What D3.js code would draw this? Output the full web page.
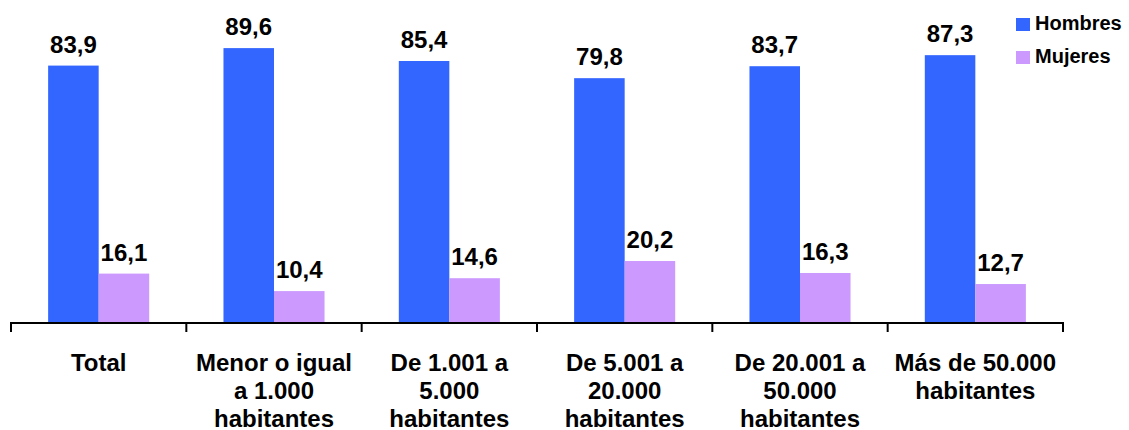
<!DOCTYPE html>
<html lang="es">
<head>
  <meta charset="UTF-8">
  <title>Hombres y Mujeres por tamaño de municipio</title>
  <script src="https://d3js.org/d3.v7.min.js"></script>
  <style>
    body {
      margin: 0;
      background: #fff;
    }
    svg {
      display: block;
      font-family: "Liberation Sans", Arial, sans-serif;
      font-weight: bold;
    }
  </style>
</head>
<body>
  <svg width="1129" height="430"></svg>

  <script>
    // categorias (etiquetas en varias lineas)
    const categorias = [
      ["Total"],
      ["Menor o igual", "a 1.000", "habitantes"],
      ["De 1.001 a", "5.000", "habitantes"],
      ["De 5.001 a", "20.000", "habitantes"],
      ["De 20.001 a", "50.000", "habitantes"],
      ["Más de 50.000", "habitantes"]
    ];
    const series = ["Hombres", "Mujeres"];
    const hombres = [83.9, 89.6, 85.4, 79.8, 83.7, 87.3];
    const mujeres = [16.1, 10.4, 14.6, 20.2, 16.3, 12.7];
    const colores = { Hombres: "#3366FF", Mujeres: "#CC99FF" };

    const datos = categorias.map((c, i) => ({
      id: i,
      label: c,
      valores: [
        { serie: "Hombres", valor: hombres[i] },
        { serie: "Mujeres", valor: mujeres[i] }
      ]
    }));

    const svg = d3.select("svg");
    const base = 323;

    const x0 = d3.scaleBand()
      .domain(datos.map(d => d.id))
      .range([11, 1063])
      .padding(0);

    const x1 = d3.scaleBand()
      .domain(series)
      .range([0, x0.bandwidth()])
      .paddingInner(0)
      .paddingOuter(0.735);

    const y = d3.scaleLinear()
      .domain([0, 100])
      .range([base, base - 306.8]);

    const grupos = svg.append("g")
      .selectAll("g")
      .data(datos)
      .join("g")
      .attr("transform", d => `translate(${x0(d.id)},0)`);

    grupos.selectAll("rect")
      .data(d => d.valores)
      .join("rect")
      .attr("x", d => x1(d.serie))
      .attr("width", x1.bandwidth())
      .attr("y", d => y(d.valor))
      .attr("height", d => base - y(d.valor))
      .attr("fill", d => colores[d.serie]);

    grupos.selectAll("text.valor")
      .data(d => d.valores)
      .join("text")
      .attr("class", "valor")
      .attr("x", d => x1(d.serie) + x1.bandwidth() / 2)
      .attr("y", d => y(d.valor) - 13)
      .attr("text-anchor", "middle")
      .style("font-size", "24px")
      .text(d => d3.format(".1f")(d.valor).replace(".", ","));

    // eje x con marcas en los limites de cada categoria
    const eje = svg.append("g");
    eje.append("line")
      .attr("x1", x0.range()[0])
      .attr("x2", x0.range()[1])
      .attr("y1", base)
      .attr("y2", base)
      .attr("stroke", "#000")
      .attr("stroke-width", 2);

    const limites = datos.map(d => x0(d.id)).concat([x0.range()[1]]);
    eje.selectAll("line.tick")
      .data(limites)
      .join("line")
      .attr("class", "tick")
      .attr("x1", d => d)
      .attr("x2", d => d)
      .attr("y1", base - 1)
      .attr("y2", base + 9)
      .attr("stroke", "#000")
      .attr("stroke-width", 2);

    const etiquetas = svg.append("g")
      .selectAll("text")
      .data(datos)
      .join("text")
      .attr("x", d => x0(d.id) + x0.bandwidth() / 2)
      .attr("y", 371)
      .attr("text-anchor", "middle")
      .style("font-size", "24px");

    etiquetas.selectAll("tspan")
      .data(d => d.label.map((t, i) => ({ t, i, cx: x0(d.id) + x0.bandwidth() / 2 })))
      .join("tspan")
      .attr("x", d => d.cx)
      .attr("dy", d => d.i === 0 ? 0 : 28)
      .text(d => d.t);

    // leyenda
    const leyenda = svg.append("g")
      .selectAll("g")
      .data(series)
      .join("g")
      .attr("transform", (d, i) => `translate(1016,${18 + i * 33})`);

    leyenda.append("rect")
      .attr("width", 14)
      .attr("height", 13)
      .attr("fill", d => colores[d]);

    leyenda.append("text")
      .attr("x", 19)
      .attr("y", 12)
      .style("font-size", "20px")
      .text(d => d);
  </script>
</body>
</html>
